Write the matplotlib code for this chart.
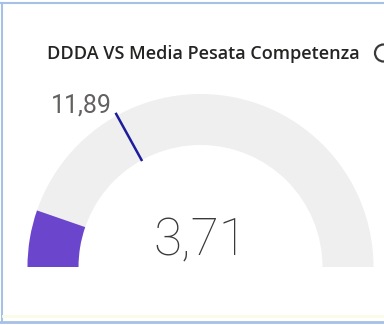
import matplotlib
matplotlib.use("Agg")
import matplotlib.pyplot as plt
from matplotlib.patches import Wedge, Circle
import numpy as np

# dati del gauge
titolo = "DDDA VS Media Pesata Competenza"
valore = 3.71
obiettivo = 11.89
minimo = 0
massimo = 35


def etichetta(v):
    # formato italiano con la virgola
    return f"{v:.2f}".replace(".", ",")


def angolo(v):
    # 180 gradi a sinistra (minimo), 0 gradi a destra (massimo)
    return 180 - 180 * (v - minimo) / (massimo - minimo)


W, H = 384, 325
fig = plt.figure(figsize=(W / 100, H / 100), dpi=100)
ax = fig.add_axes([0, 0, 1, 1])
ax.set_xlim(0, W)
ax.set_ylim(0, H)
ax.axis("off")

# centro e raggi dell'arco (coordinate in pixel, y dal basso)
cx, cy = 200.5, H - 267
r_est, r_int = 173, 122

# arco di sfondo
ax.add_patch(Wedge((cx, cy), r_est, 0, 180, width=r_est - r_int,
                   facecolor="#efefef", edgecolor="none"))
# arco del valore
ax.add_patch(Wedge((cx, cy), r_est, angolo(valore), 180, width=r_est - r_int,
                   facecolor="#6b45cc", edgecolor="none"))

# linea dell'obiettivo
a = np.radians(angolo(obiettivo))
ax.plot([cx + (r_int - 1) * np.cos(a), cx + (r_est + 3) * np.cos(a)],
        [cy + (r_int - 1) * np.sin(a), cy + (r_est + 3) * np.sin(a)],
        color="#1c1c9c", lw=1.8, solid_capstyle="butt")

# etichette
ax.text(112, H - 112, etichetta(obiettivo), ha="right", va="baseline",
        fontsize=18, color="#63615f", family="Roboto", fontweight="normal")
ax.text(cx, H - 255, etichetta(valore), ha="center", va="baseline",
        fontsize=37, color="#3b3a39", family="Roboto", fontweight="light")

# titolo
ax.text(47, H - 59, titolo, ha="left", va="baseline",
        fontsize=13, color="#252423", family="Open Sans", fontweight="semibold")

# icona a destra del titolo
ax.add_patch(Circle((383.5, H - 53), 8.5, facecolor="none", edgecolor="#3b3a39", lw=1.6))

# bordo della scheda
ax.plot([1.5, 1.5], [H - 3, H - 321.5], color="#a7c0e6", lw=1.5)
ax.plot([0, W], [H - 3, H - 3], color="#a7c0e6", lw=1.5)
ax.plot([0, W], [H - 321.5, H - 321.5], color="#a7c0e6", lw=2)
ax.plot([3, W], [H - 316, H - 316], color="#fbfbe8", lw=2)

fig.savefig("out.png", dpi=100)
